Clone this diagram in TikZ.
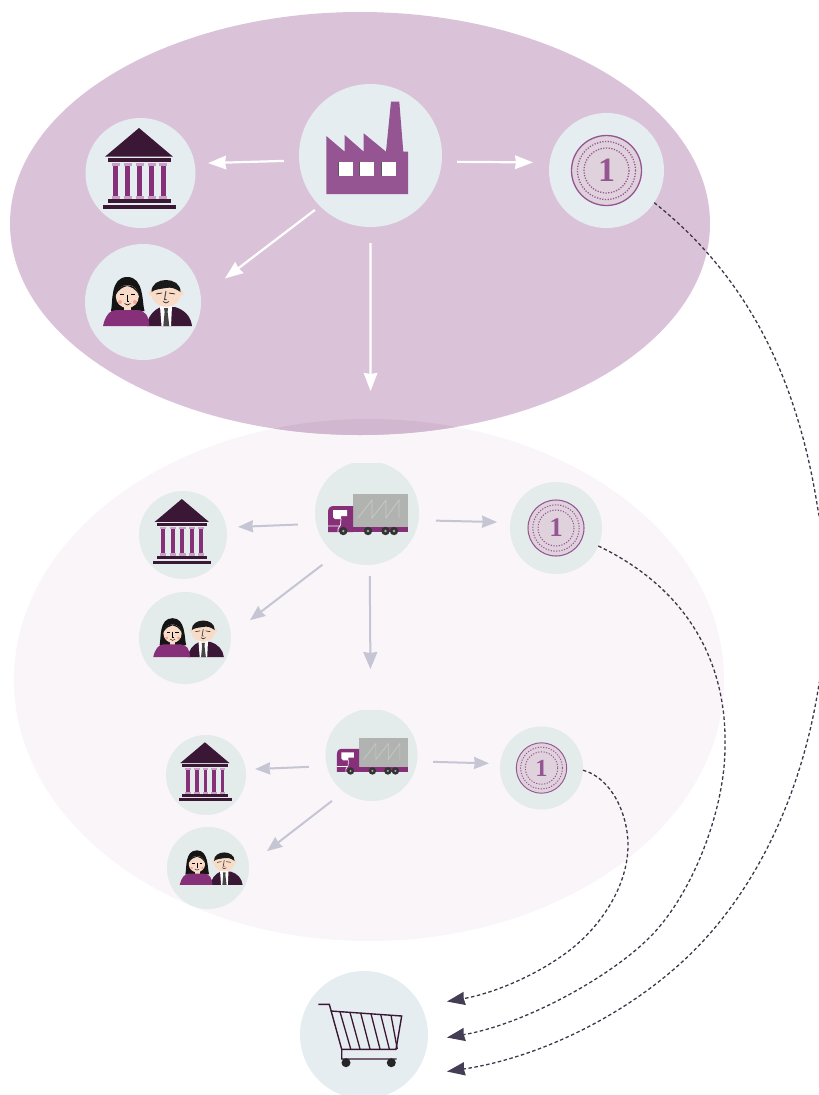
\documentclass[tikz,border=0pt]{standalone}
\usepackage{fontspec}
\newfontfamily\coinfont{Liberation Serif}[BoldFont={Liberation Serif Bold}]
\usetikzlibrary{arrows.meta,calc}
\definecolor{topbg}{HTML}{DAC3D9}
\definecolor{lowbg}{HTML}{F9F5F9}
\definecolor{lens}{HTML}{D1B7CF}
\definecolor{disc}{HTML}{E6EDF0}
\definecolor{discl}{HTML}{E3EBEB}
\definecolor{dark}{HTML}{3A1734}
\definecolor{plum}{HTML}{87307A}
\definecolor{mauve}{HTML}{955592}
\definecolor{capital}{HTML}{C8A0C4}
\definecolor{skin}{HTML}{F9DCC8}
\definecolor{coinfill}{HTML}{E0D2DD}
\definecolor{cargo}{HTML}{B0B3B0}
\definecolor{zig}{HTML}{C8CBC8}
\definecolor{softarrow}{HTML}{C5C5D4}
\definecolor{dashc}{HTML}{3F3648}
\definecolor{tipc}{HTML}{433E54}
\tikzset{
  topdisc/.style={circle,fill=disc,inner sep=0pt,outer sep=0pt,minimum size=#1},
  lowdisc/.style={circle,fill=discl,inner sep=0pt,outer sep=0pt,minimum size=#1},
  whitearrow/.style={draw=white,line width=2.2pt,-{Stealth[length=18pt,width=13.5pt,inset=1pt]}},
  softar/.style={draw=softarrow,line width=2pt,-{Stealth[length=15pt,width=12pt,inset=.8pt]}},
  softbig/.style={draw=softarrow,line width=2pt,-{Stealth[length=17pt,width=14pt,inset=1pt]}},
  dashedlink/.style={draw=dashc,line width=1.3pt,dash pattern=on 3.5pt off 2.5pt,
    -{Stealth[length=18pt,width=13.5pt,inset=1pt,color=tipc,line width=0pt]}},
}
\newcommand{\iconBank}[3]{\begin{scope}[shift={(#1,#2)},scale=#3]
  \fill[dark] (-1.5,-45) -- (-35.5,-16.3) -- (32.5,-16.3) -- cycle;
  \fill[dark] (-32.5,-15) rectangle (30.5,-11);
  \foreach \cx in {-24.8,-12.8,-0.8,11.2,22.8}{
    \fill[plum] (\cx-2.5,-7) rectangle (\cx+2.5,23);
    \fill[capital] (\cx-4,-10) rectangle (\cx+4,-7);
    \fill[capital] (\cx-4,23) rectangle (\cx+4,26);
  }
  \fill[dark] (-32.5,26) rectangle (30.5,30);
  \fill[dark] (-37.5,32) rectangle (35.5,36);
\end{scope}}
\newcommand{\iconPeople}[3]{\begin{scope}[shift={(#1,#2)},scale=#3]
  % man
  \fill[dark] (4,24) .. controls (4,16) and (10,8) .. (18,5) -- (32,5) .. controls (42,8) and (48,15) .. (49,24) -- cycle;
  \fill[white] (17,4) -- (29,4) -- (28,24) -- (18.5,24) -- cycle;
  \fill[black!72] (21,6) -- (25,6) -- (24.6,10) -- (26.3,24) -- (20.3,24) -- (21.6,10) -- cycle;
  \fill[skin] (8,-9) circle (2.6) (38,-9) circle (2.6);
  \fill[skin] (23,-8.7) ellipse [x radius=15,y radius=13.5];
  \fill[black!90] (8.5,-10) .. controls (8,-26) and (38,-26) .. (37.5,-10) .. controls (32,-14) and (28,-15) .. (23,-14) .. controls (18,-13) and (12,-13) .. (8.5,-10) -- cycle;
  \draw[black,line width=.6*#3] (13,-8) -- (19,-9) (26,-9) -- (32,-8);
  \draw[black!70,line width=1*#3] (23,-11) -- (21.5,-2.5) -- (23.5,-2.5);
  \draw[black,line width=.5*#3] (20,-0.5) .. controls (21.5,1.5) and (24.5,1.5) .. (26,-0.5);
  % woman
  \fill[black!92] (-32,9) .. controls (-30,0) and (-33,-25) .. (-15.7,-25) .. controls (1,-25) and (-1,0) .. (1.5,9) -- cycle;
  \fill[skin] (-19,3) rectangle (-12,9);
  \fill[skin] (-15.7,-5.5) ellipse [x radius=11.5,y radius=11.5];
  \fill[black!92] (-27.5,-7) .. controls (-26,-20) and (-6,-20) .. (-4,-7) .. controls (-8,-14) and (-12,-15) .. (-15.7,-16) .. controls (-20,-15) and (-24,-13) .. (-27.5,-7) -- cycle;
  \fill[red!25!skin] (-23,0) circle (2) (-8,0) circle (2);
  \draw[black,line width=.45*#3] (-23,-7.5) -- (-19,-7.5) (-12,-7.5) -- (-8,-7.5);
  \draw[black,line width=.6*#3] (-15.7,-7) -- (-15.7,-1) -- (-14.5,-1);
  \draw[black,line width=.5*#3] (-18.5,1.5) .. controls (-17,3.5) and (-14,3.5) .. (-12.5,1.5);
  \fill[plum] (-40,24) .. controls (-38,14) and (-33,8) .. (-27,8) -- (-6,8) .. controls (2,8) and (6,14) .. (6.3,24) -- cycle;
\end{scope}}
\newcommand{\iconTruck}[3]{\begin{scope}[shift={(#1,#2)},scale=#3]
  \fill[cargo] (-14,-19) rectangle (41,14);
  \draw[zig,line width=.7*#3] (-9,5) -- (5,-13) -- (5,5) -- (19,-13) -- (19,5) -- (32,-13) -- (32,5);
  \fill[plum] (-39,19) -- (-39,-1) .. controls (-39,-5) and (-37,-7) .. (-33,-7) -- (-14,-7) -- (-14,19) -- cycle;
  \fill[plum] (-14,14) rectangle (41,19);
  \fill[white] (-34,-3) -- (-20,-3) -- (-20,3) -- (-26,3) -- (-26,6) -- (-32,6) -- (-34,4) -- cycle;
  \draw[white,line width=.7*#3] (-26,6) -- (-26.5,12) -- (-29,16) -- (-29,19) (-39,13) -- (-27,13);
  \foreach \wx in {-23.7,1,18.5,27}{
    \fill[black!80] (\wx,18) circle (4.2);
    \fill[black!35] (\wx,18) circle (1.3);
  }
\end{scope}}
\newcommand{\iconCoin}[4]{\begin{scope}[shift={(#1,#2)},scale=#3]
  \fill[coinfill] (0,0) circle (35);
  \draw[mauve,line width=1.3*#3] (0,0) circle (35);
  \draw[mauve,line width=1.3*#3,dash pattern=on 1.2pt off 1.5pt] (0,0) circle (29);
  \draw[mauve,line width=1.3*#3,dash pattern=on 1.2pt off 1.5pt] (0,0) circle (22.5);
  \node[text=mauve,inner sep=0pt,font=\fontsize{#4}{#4}\coinfont\bfseries\selectfont] at (0,0) {1};
\end{scope}}
\begin{document}
\begin{tikzpicture}[x=1pt,y=-1pt]
\useasboundingbox (0,0) rectangle (819,1095);
% background ellipses
\fill[lowbg] (369,680) ellipse [x radius=355,y radius=261];
\fill[topbg] (360,223.5) ellipse [x radius=350,y radius=211.5];
\begin{scope}
  \clip (369,680) ellipse [x radius=355,y radius=261];
  \fill[lens] (360,223.5) ellipse [x radius=350,y radius=211.5];
\end{scope}
% discs
\node[topdisc=143pt] (factory) at (370.5,155.5) {};
\node[topdisc=110pt] (bankA) at (140.5,173) {};
\node[topdisc=116pt] (peopleA) at (143,302) {};
\node[topdisc=115pt] (coinA) at (606.5,170.5) {};
\begin{scope}
  \clip (300,463) rectangle (430,570);
  \node[lowdisc=104pt] (truckA) at (367,513) {};
\end{scope}
\node[lowdisc=92pt] (coinB) at (556,528) {};
\node[lowdisc=88pt] (bankB) at (183,535) {};
\node[lowdisc=92pt] (peopleB) at (185,638) {};
\begin{scope}
  \clip (320,710) rectangle (425,805);
  \node[lowdisc=92pt] (truckB) at (371.5,755) {};
\end{scope}
\node[lowdisc=83pt] (coinC) at (541.5,768) {};
\node[lowdisc=80pt] (bankC) at (206,775) {};
\node[lowdisc=82pt] (peopleC) at (208,868) {};
\node[topdisc=128pt] (cart) at (364,1035) {};
% icons
\iconBank{140.5}{173}{1}
\iconBank{183}{535}{.8}
\iconBank{206}{775}{.727}
\iconPeople{143}{302}{1}
\iconPeople{185}{638}{.793}
\iconPeople{208}{868}{.707}
\iconTruck{367}{513}{1}
\iconTruck{371.5}{755}{.885}
\iconCoin{606.5}{170.5}{1}{34}
\iconCoin{556}{528}{.8}{27}
\iconCoin{541.5}{768}{.72}{24.5}
% factory
\begin{scope}[shift={(370.5,155.5)}]
  \fill[mauve] (-44.2,38.5) -- (-44.2,-19.5) -- (-25.8,-3.8) -- (-25.8,-20.5) -- (-6.8,-3.8) -- (-6.8,-22.2) -- (15.5,-3.8) -- (20.5,-53.8) -- (28.8,-53.8) -- (32.8,-3.8) -- (37.5,-3.8) -- (37.5,38.5) -- cycle;
  \foreach \wx in {-31.8,-10.5,11.2}{
    \fill[black!65] (\wx-.6,6.5) rectangle (\wx+14.3,20.6);
    \fill[white] (\wx,6.5) rectangle (\wx+14.3,20);
  }
\end{scope}
% cart
\begin{scope}
  \draw[dark,line width=1.4pt] (318.3,1004.3) -- (329.3,1004.3) -- (341.7,1049.3) -- (341.7,1059) -- (396.7,1059);
  \draw[dark,line width=1.4pt] (330.7,1011) -- (401.7,1016) -- (396,1049.3) -- (341.7,1049.3);
  \foreach \ta/\tb/\ba in {340/1011.7/350.7,350/1012.4/360,360.7/1013.1/370,371/1013.8/380,380.7/1014.5/389.3,391/1015.2/397.3}{
    \draw[dark,line width=1.3pt] (\ta,\tb) -- (\ba,1049);
  }
  \fill[black!85] (346,1062.7) circle (4.5) (391.3,1062.7) circle (4.5);
\end{scope}
% arrows, upper group
\draw[whitearrow,shorten <=15.2pt,shorten >=13.4pt] (factory.184.1) -- (bankA.10.2);
\draw[whitearrow,shorten <=15.3pt,shorten >=16.5pt] (factory.355.9) -- (coinA.172.9);
\draw[whitearrow,shorten <=6.4pt,shorten >=30.4pt] (factory.225.1) -- (peopleA.5.6);
\draw[whitearrow,shorten <=16pt,shorten >=70.1pt] (factory.270.4) -- (truckA.86.7);
% arrows, lower group
\draw[softar,shorten <=18.3pt,shorten >=11.7pt] (truckA.192.7) -- (bankB.10);
\draw[softar,shorten <=17.4pt,shorten >=13.3pt] (truckA.352.9) -- (coinB.173);
\draw[softar,shorten <=16.7pt,shorten >=24pt] (truckA.233.8) -- (peopleB.4.4);
\draw[softbig,shorten <=11.1pt,shorten >=40pt] (truckA.273.3) -- (truckB.91.9);
\draw[softar,shorten <=18pt,shorten >=9.5pt] (truckB.194.5) -- (bankC.8.9);
\draw[softar,shorten <=16pt,shorten >=11.2pt] (truckB.352.5) -- (coinC.174.3);
\draw[softar,shorten <=15pt,shorten >=22.9pt] (truckB.233.2) -- (peopleC.4.2);
% dashed links to the cart
\draw[dashedlink] (coinA.-34) .. controls (758,285) and (800,395) .. (818,510) .. controls (830,568) and (829,631) .. (818,690) .. controls (801,795) and (754,901) .. (673,970) .. controls (610,1024) and (530,1059) .. ($(cart)+(83,36.5)$);
\draw[dashedlink] (coinB.-23) .. controls (690,590) and (727,665) .. (725,747) .. controls (725,810) and (692,897) .. (647,940) .. controls (603,982) and (520,1025) .. ($(cart)+(83,2.5)$);
\draw[dashedlink] (coinC.-3) .. controls (612,778) and (628,815) .. (628,845) .. controls (628,885) and (602,925) .. (570,950) .. controls (535,977) and (490,994) .. ($(cart)+(83,-33.5)$);
\end{tikzpicture}
\end{document}
